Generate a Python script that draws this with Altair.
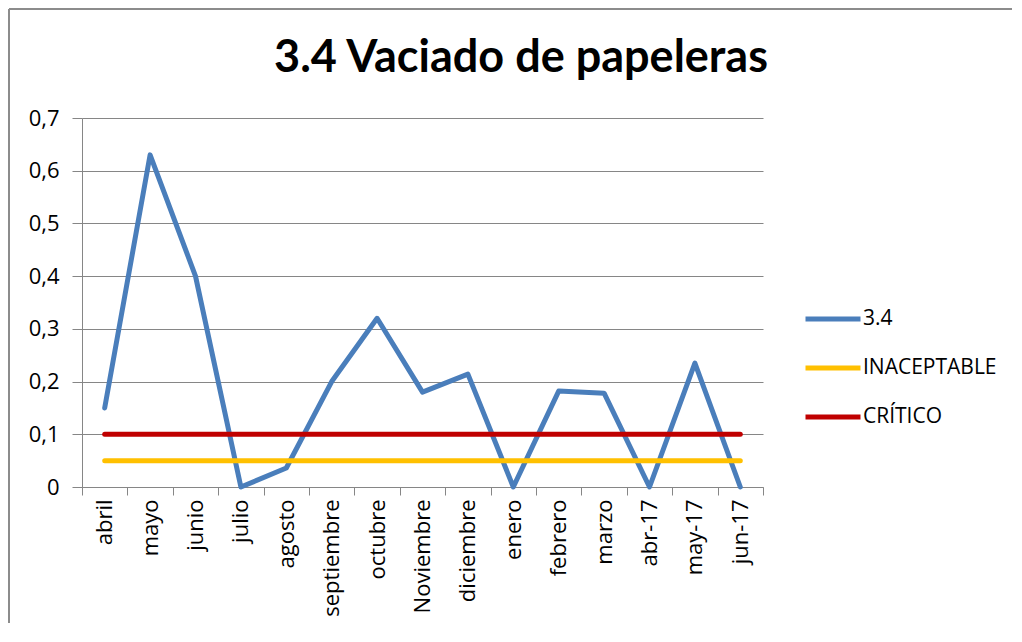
import altair as alt
import pandas as pd

months = ["abril", "mayo", "junio", "julio", "agosto", "septiembre", "octubre",
          "Noviembre", "diciembre", "enero", "febrero", "marzo", "abr-17", "may-17", "jun-17"]
serie_34 = [0.15, 0.63, 0.40, 0.0, 0.036, 0.20, 0.32, 0.18, 0.214, 0.0, 0.182, 0.178, 0.0, 0.235, 0.0]
inaceptable = [0.05] * 15
critico = [0.1] * 15

series_names = ["3.4", "INACEPTABLE", "CRÍTICO"]
series_colors = ["#4a7ebb", "#ffc000", "#c00000"]
title_text = "3.4 Vaciado de papeleras"

rows = []
for name, vals in zip(series_names, [serie_34, inaceptable, critico]):
    for m, v in zip(months, vals):
        rows.append({"mes": m, "valor": v, "serie": name, "orden": series_names.index(name)})
df = pd.DataFrame(rows)

FONT = "Open Sans"
GRAY = "#868686"

lines = alt.Chart(df).mark_line(strokeWidth=5, strokeCap="round", strokeJoin="round").encode(
    x=alt.X("mes:N", sort=months,
            scale=alt.Scale(type="band", paddingInner=0, paddingOuter=0),
            axis=alt.Axis(title=None, labelAngle=-90, labelFontSize=22, labelFont=FONT,
                          labelColor="#000000", tickBand="extent", tickSize=8,
                          tickColor=GRAY, domainColor=GRAY, labelPadding=4,
                          labelBaseline="middle", labelAlign="right", grid=False)),
    y=alt.Y("valor:Q", scale=alt.Scale(domain=[0, 0.7]),
            axis=alt.Axis(title=None, values=[0, 0.1, 0.2, 0.3, 0.4, 0.5, 0.6, 0.7],
                          labelExpr="datum.value == 0 ? '0' : replace(format(datum.value, '.1f'), '.', ',')",
                          labelFontSize=22, labelFont=FONT, labelColor="#000000",
                          tickSize=10, tickColor=GRAY, domainColor=GRAY,
                          grid=True, gridColor=GRAY, labelPadding=13)),
    color=alt.Color("serie:N", sort=series_names,
                    scale=alt.Scale(domain=series_names, range=series_colors),
                    legend=alt.Legend(title=None, orient="none", legendX=721, legendY=171,
                                      symbolType="stroke", symbolStrokeWidth=5, symbolSize=3025,
                                      labelFontSize=21, labelFont=FONT, labelColor="#000000",
                                      rowPadding=9, labelOffset=0)),
    order=alt.Order("orden:Q"),
    detail="serie:N",
)

frame_df = pd.DataFrame({"k": [0]})
frame_left = alt.Chart(frame_df).mark_rule(color="#8c8c8c", strokeWidth=2).encode(
    x=alt.value(-73), y=alt.value(-109), y2=alt.value(505))
frame_top = alt.Chart(frame_df).mark_rule(color="#8c8c8c", strokeWidth=2).encode(
    x=alt.value(-73), x2=alt.value(930), y=alt.value(-109))

title_df = pd.DataFrame({"t": [title_text]})
title = alt.Chart(title_df).mark_text(
    font="Lato", fontSize=45, fontWeight="bold", color="#000000",
    align="center", baseline="alphabetic").encode(
    text="t:N", x=alt.value(439), y=alt.value(-46))

chart = alt.layer(frame_left, frame_top, title, lines).properties(
    width=681, height=369,
    padding=0,
).configure_view(stroke=None)

chart.save("out.html", embed_options={"renderer": "svg", "actions": False})
